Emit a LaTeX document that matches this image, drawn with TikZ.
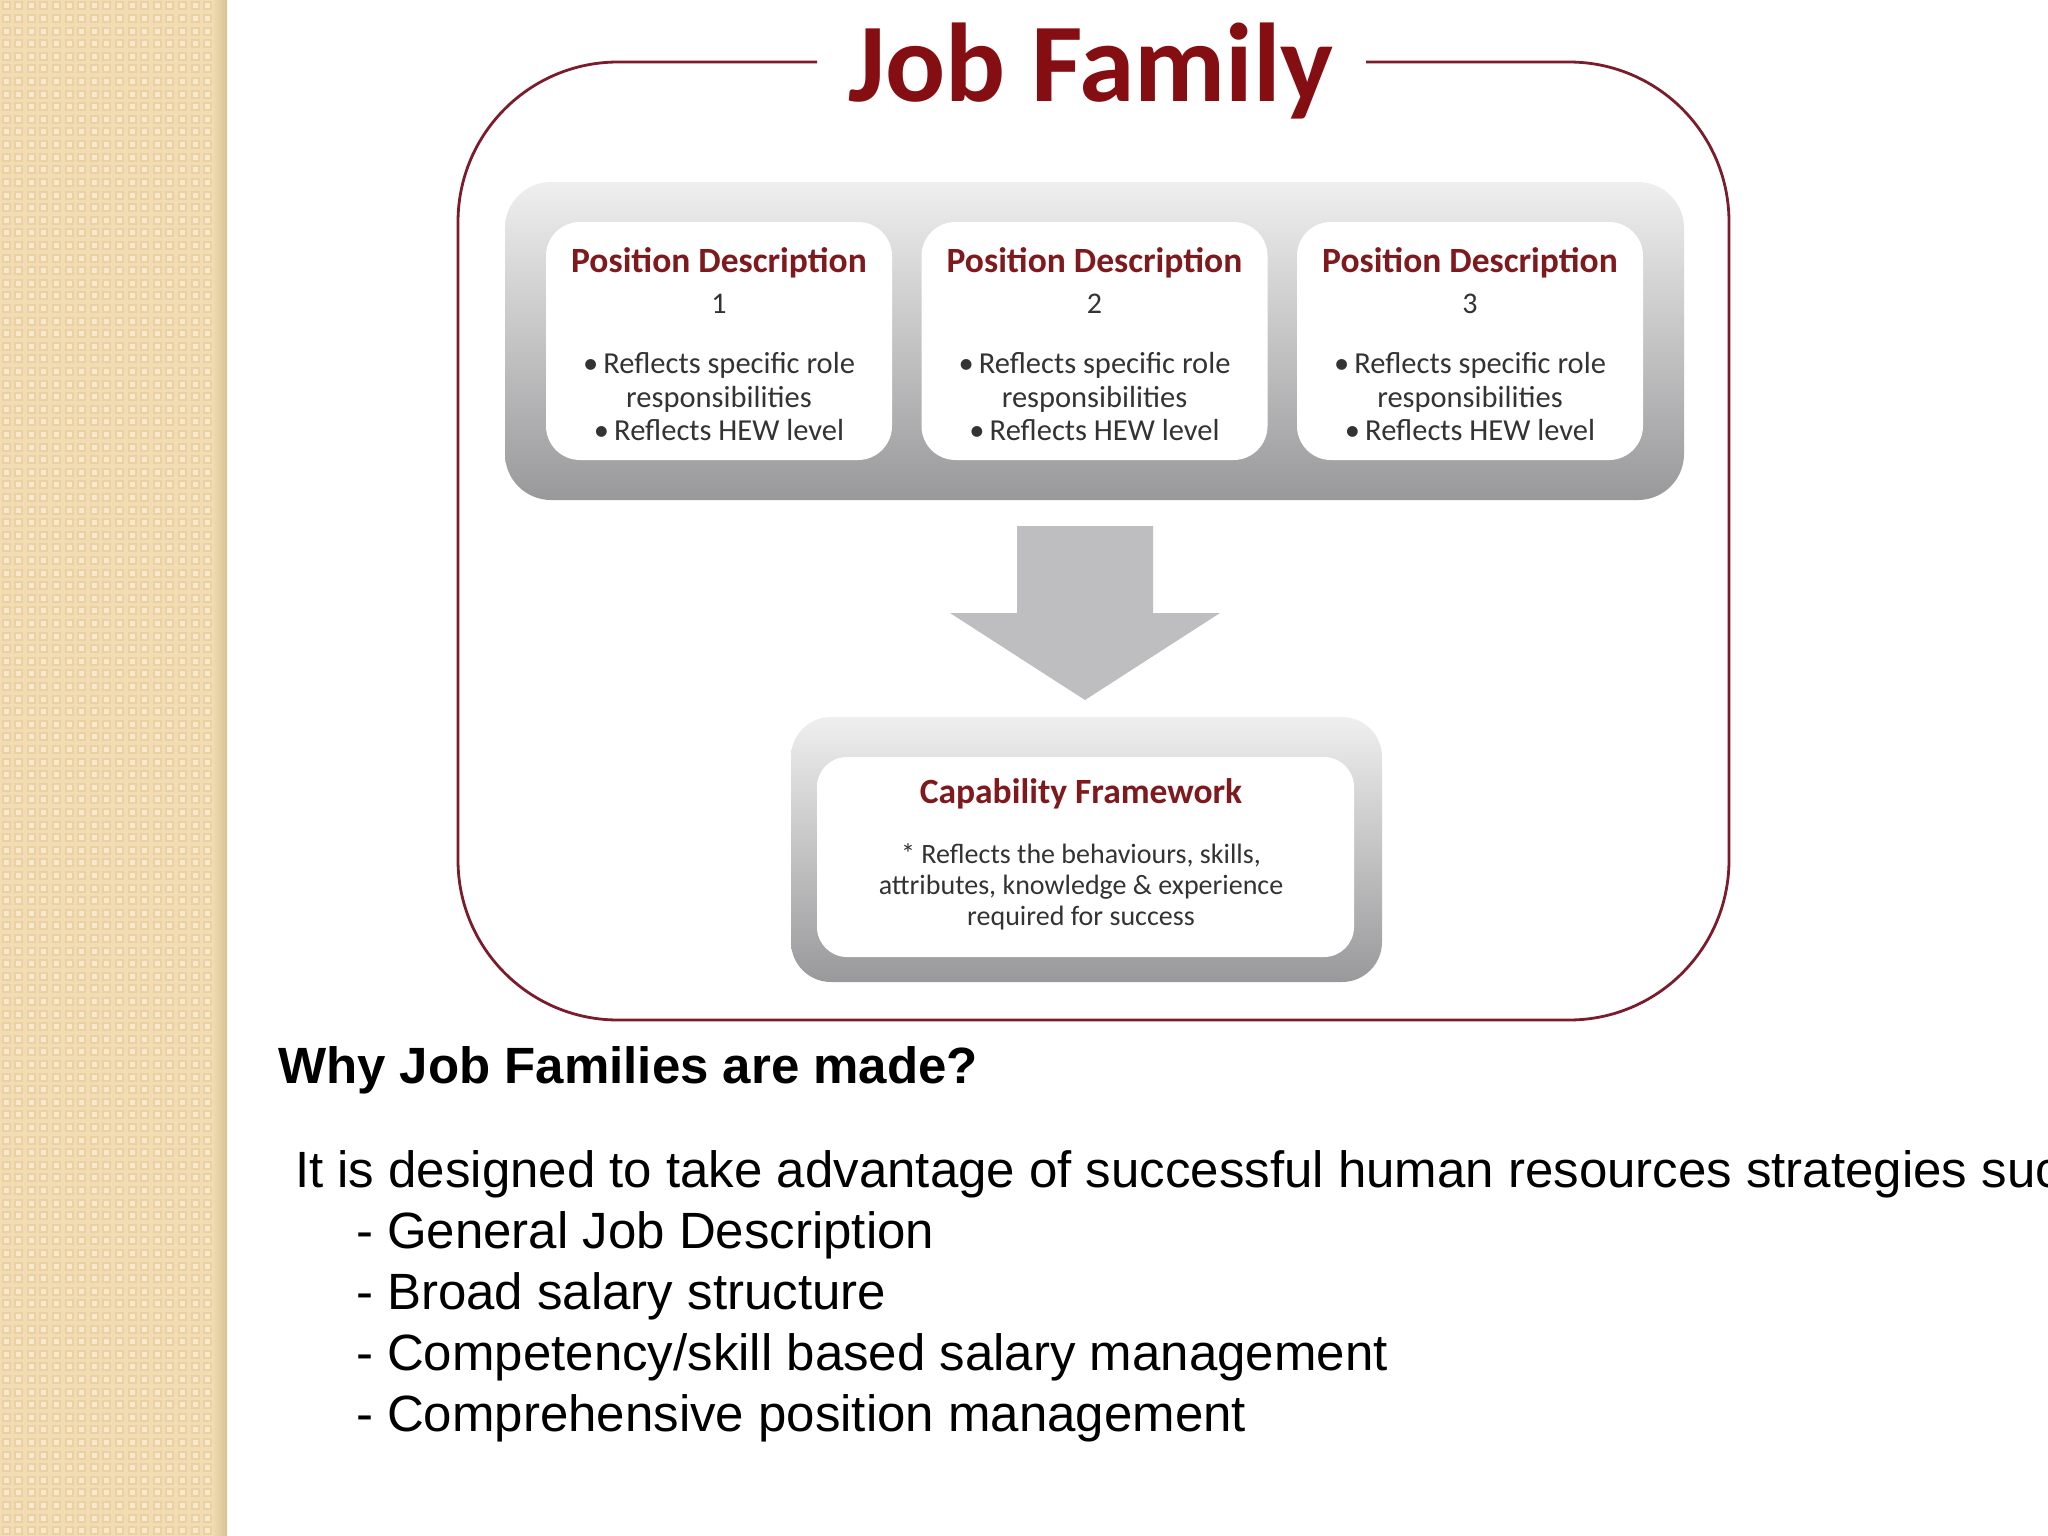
\documentclass[tikz,border=0pt]{standalone}
\usepackage{fontspec}
\setmainfont{Liberation Sans}
\newfontfamily\calib{Carlito}
\usetikzlibrary{calc}
\definecolor{beige}{HTML}{F2DCB3}
\definecolor{beigelt}{HTML}{F8E9CC}
\definecolor{beigedk}{HTML}{EAD0A2}
\definecolor{beigeshadow}{HTML}{D6C094}
\definecolor{framecol}{HTML}{7A1C2C}
\definecolor{jred}{HTML}{850E13}
\definecolor{pdred}{HTML}{7E1A1E}
\definecolor{txtgray}{HTML}{333333}
\definecolor{arrowgray}{HTML}{BEBEC0}
\definecolor{paneltop}{HTML}{EFEFEF}
\definecolor{panelbot}{HTML}{99999B}
\tikzset{
  panelbox/.style={rectangle, rounded corners=46pt, top color=paneltop, bottom color=panelbot, draw=none},
  whitebox/.style={rectangle, rounded corners=34pt, fill=white, draw=none},
  pdtitle/.style={anchor=base, text=pdred, font=\calib\bfseries\fontsize{35.5}{40}\selectfont},
  pdnum/.style={anchor=base, text=txtgray, font=\calib\fontsize{30}{36}\selectfont},
  pdbody/.style={anchor=base, text=txtgray, font=\calib\fontsize{30.5}{34}\selectfont},
  captext/.style={anchor=base, text=txtgray, font=\calib\fontsize{28}{30}\selectfont},
  whytext/.style={anchor=base west, text=black, font=\bfseries\fontsize{51}{58}\selectfont},
  bodytext/.style={anchor=base west, text=black, font=\fontsize{51}{60}\selectfont}
}
\begin{document}
\begin{tikzpicture}[x=1pt,y=-1pt, every node/.style={inner sep=0pt, outer sep=0pt}]
\useasboundingbox (0,0) rectangle (2048,1536);
\fill[white] (0,0) rectangle (2048,1536);
% left decorative strip
\fill[beige] (0,0) rectangle (227,1536);
\foreach \i in {0,...,17}{
  \foreach \j in {0,...,121}{
    \fill[beigedk] (\i*12.6+1.5,\j*12.6+1.5) rectangle ++(9,9);
    \fill[beigelt] (\i*12.6+3.5,\j*12.6+3.5) rectangle ++(5,5);
  }
}
\shade[left color=beige, right color=beigeshadow] (212,0) rectangle (227,1536);
% outer frame with title gap
\node[anchor=base, text=jred, font=\calib\bfseries\fontsize{112}{124}\selectfont] (title) at (1091,102) {Job Family};
\draw[framecol, line width=2.8pt, rounded corners=160pt]
  (817,62) -- (458,62) -- (458,1020) -- (1729,1020) -- (1729,62) -- (1366,62);
% top panel
\node[panelbox, minimum width=1179pt, minimum height=318pt] (panel) at (1094.5,341) {};
\foreach \n/\cx in {1/719, 2/1094.5, 3/1470}{
  \node[whitebox, minimum width=346pt, minimum height=238pt] (pd\n) at (\cx,341) {};
  \node[pdtitle] (pdt\n) at (\cx,272) {Position Description};
  \node[pdnum] (pdn\n) at (\cx,313) {\n};
  \node[pdbody] (pda\n) at (\cx,373) {•\,Reflects specific role};
  \node[pdbody] (pdb\n) at (\cx,407) {responsibilities};
  \node[pdbody] (pdc\n) at (\cx,440) {•\,Reflects HEW level};
}
% block arrow
\fill[arrowgray] (1017,526) -- (1153,526) -- (1153,613) -- (1220,613) -- (1085,700)
  -- (950,613) -- (1017,613) -- cycle;
% capability panel
\node[panelbox, rounded corners=40pt, minimum width=591pt, minimum height=265pt] (cappanel) at (1086.5,849.5) {};
\node[whitebox, rounded corners=30pt, minimum width=537pt, minimum height=200pt] (cap) at (1085.5,857) {};
\node[pdtitle] (capt) at (1081,803) {Capability Framework};
\node[captext] (capa) at (1081,863) {* Reflects the behaviours, skills,};
\node[captext] (capb) at (1081,894) {attributes, knowledge \& experience};
\node[captext] (capc) at (1081,925) {required for success};
% bottom text
\begin{scope}
\clip (0,0) rectangle (2048,1536);
\node[whytext] (why) at (278,1083) {Why Job Families are made?};
\node[bodytext] (intro) at (295,1187) {It is designed to take advantage of successful human resources strategies suc};
\node[bodytext] (item1) at (356,1248) {- General Job Description};
\node[bodytext] (item2) at (356,1309) {- Broad salary structure};
\node[bodytext] (item3) at (356,1370) {- Competency/skill based salary management};
\node[bodytext] (item4) at (356,1431) {- Comprehensive position management};
\end{scope}
\end{tikzpicture}
\end{document}
